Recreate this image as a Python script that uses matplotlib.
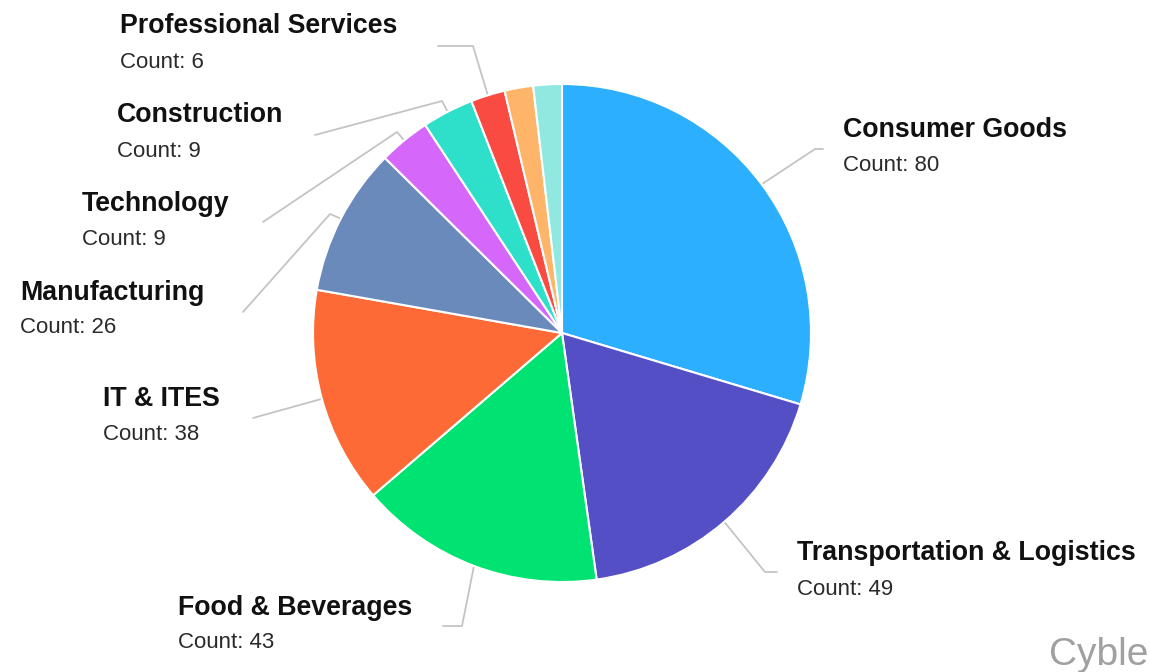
import numpy as np
import matplotlib
matplotlib.use('Agg')
import matplotlib.pyplot as plt

# Sektör dağılımı (saat yönünde, tepeden başlayarak)
sectors = ['Consumer Goods', 'Transportation & Logistics', 'Food & Beverages', 'IT & ITES',
           'Manufacturing', 'Technology', 'Construction', 'Professional Services',
           'Other 1', 'Other 2']
counts = [80, 49, 43, 38, 26, 9, 9, 6, 5, 5]
colors = ['#2caffe', '#544fc5', '#00e272', '#fe6a35', '#6b8abc',
          '#d568fb', '#2ee0ca', '#fa4b42', '#feb56a', '#91e8e1']
show_label = [True, True, True, True, True, True, True, True, False, False]

W, H = 1150, 672
cx, cy, R = 562, 333, 249

# etiket konumları (piksel, üstten): metin x, başlık taban çizgisi, sayı taban çizgisi, kırılma noktaları
label_pos = {
    'Consumer Goods': (843, 137, 171, [(815, 149), (823, 149)]),
    'Transportation & Logistics': (797, 560, 595, [(765, 572), (777, 572)]),
    'Food & Beverages': (178, 615, 648, [(462, 626), (443, 626)]),
    'IT & ITES': (103, 406, 440, [(253, 418)]),
    'Manufacturing': (20, 300, 333, [(330, 214), (243, 312)]),
    'Technology': (82, 211, 245, [(397, 132), (263, 222)]),
    'Construction': (117, 122, 157, [(442, 101), (315, 135)]),
    'Professional Services': (120, 33, 68, [(473, 46), (438, 46)]),
}

def fy(y):
    return H - y

fig = plt.figure(figsize=(W / 100, H / 100), dpi=100)
ax = fig.add_axes([0, 0, 1, 1])

wedges, _ = ax.pie(counts, colors=colors, startangle=90, counterclock=False,
                   center=(cx, fy(cy)), radius=R,
                   wedgeprops=dict(edgecolor='white', linewidth=1.5, joinstyle='round'))
ax.set_xlim(0, W)
ax.set_ylim(0, H)
ax.set_aspect('equal')
ax.axis('off')

for w, name, cnt, show in zip(wedges, sectors, counts, show_label):
    if not show:
        continue
    mid = np.deg2rad((w.theta1 + w.theta2) / 2)
    sx = cx + (R + 1) * np.cos(mid)
    sy = fy(cy) + (R + 1) * np.sin(mid)
    tx, tb, cb, pts = label_pos[name]
    xs = [sx] + [p[0] for p in pts]
    ys = [sy] + [fy(p[1]) for p in pts]
    ax.plot(xs, ys, color='#c4c4c4', lw=1.3, zorder=0, solid_capstyle='round')
    ax.text(tx, fy(tb), name, fontsize=19.3, fontweight='bold', color='#111111',
            family='Liberation Sans', va='baseline', ha='left')
    ax.text(tx, fy(cb), f'Count: {cnt}', fontsize=16, color='#2a2a2a',
            family='Liberation Sans', va='baseline', ha='left')

ax.text(1148, fy(665), 'Cyble', fontsize=28, color='#a0a0a0',
        family='Liberation Sans', va='baseline', ha='right')

fig.savefig('out.png', dpi=100, facecolor='white')
